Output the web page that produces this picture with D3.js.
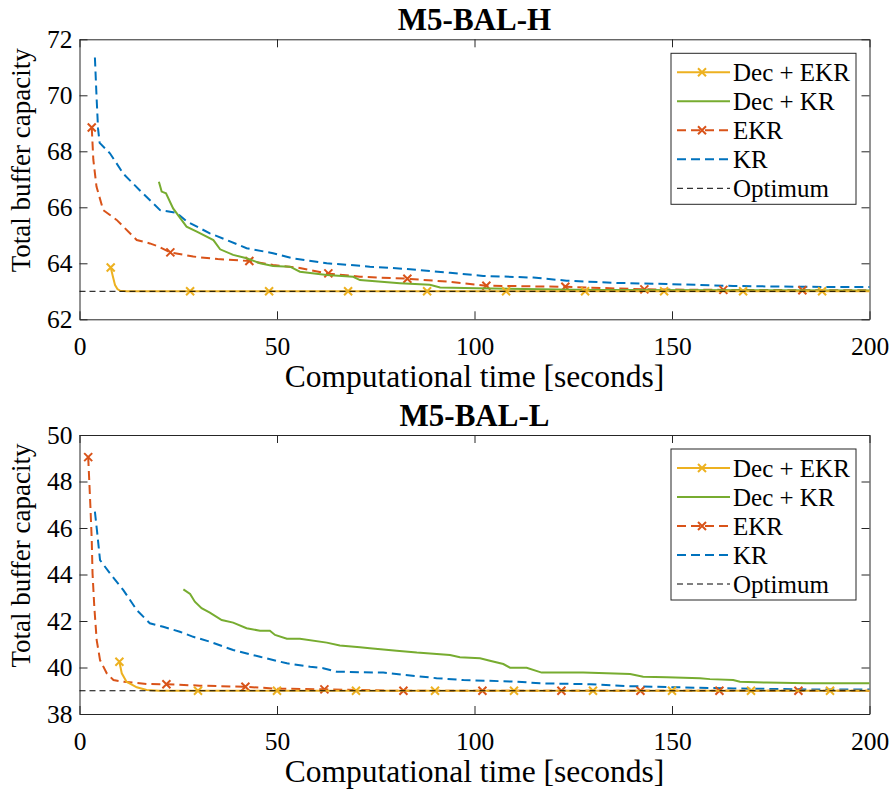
<!DOCTYPE html>
<html>
<head>
<meta charset="utf-8">
<script src="https://cdn.jsdelivr.net/npm/d3@7"></script>
<style>
  body { margin: 0; background: #fff; }
  svg text { font-family: "Liberation Serif", "DejaVu Serif", "Times New Roman", serif !important; fill: #000; }
</style>
</head>
<body>
<div id="chart-area"></div>
<script>
// ---- data ----
const xTicks = [0, 50, 100, 150, 200]
const hTicks = [62, 64, 66, 68, 70, 72]
const lTicks = [38, 40, 42, 44, 46, 48, 50]
const seriesNames = ["Dec + EKR", "Dec + KR", "EKR", "KR", "Optimum"]

// M5-BAL-H
const hDecEkr = [[7.9, 63.85], [8.5, 63.5], [9, 63.22], [9.6, 63.08], [10.3, 63.02], [12, 63.0], [200, 63.0]]
const hDecEkrMarks = [[7.9, 63.85], [28, 63], [48, 63], [68, 63], [88, 63], [108, 63], [128, 63], [148, 63], [168, 63], [188, 63]]
const hDecKr = [[20.1, 66.91], [20.8, 66.56], [21.9, 66.5], [23.7, 65.96], [27.1, 65.31], [29.7, 65.13], [33.9, 64.83],
  [35.6, 64.5], [38.9, 64.3], [42.3, 64.18], [45.7, 64.0], [49, 63.9], [53.3, 63.88], [55.8, 63.7], [62.6, 63.58],
  [69.3, 63.52], [71, 63.4], [81.1, 63.29], [88.7, 63.23], [91.3, 63.14], [100.6, 63.11], [130, 63.05], [200, 63.03]]
const hEkr = [[3.1, 68.85], [3.5, 67.7], [4.3, 66.74], [6, 65.9], [9.4, 65.55], [14.5, 64.83], [17.8, 64.71], [20, 64.6],
  [22.9, 64.39], [28.8, 64.24], [35, 64.15], [43.2, 64.08], [49, 63.94], [55, 63.85], [62.6, 63.64], [71, 63.52],
  [82.8, 63.45], [93.8, 63.34], [103, 63.2], [123.3, 63.16], [142.7, 63.07], [163, 63.05], [183, 63.04], [200, 63.04]]
const hEkrMarks = [[3.1, 68.85], [23, 64.39], [43, 64.08], [63, 63.64], [83, 63.45], [103, 63.2], [123, 63.16], [143, 63.07], [163, 63.05], [183, 63.04]]
const hKr = [[3.9, 71.35], [4.3, 70.0], [4.7, 68.8], [5.1, 68.3], [7.7, 67.93], [11.1, 67.2], [15.3, 66.6], [20.4, 65.9],
  [24.6, 65.8], [27.1, 65.5], [33, 65.07], [37.3, 64.83], [42.3, 64.54], [49, 64.36], [54, 64.18], [62.6, 64.0],
  [68.5, 63.94], [73.5, 63.88], [83.7, 63.79], [93.8, 63.66], [102.2, 63.55], [114.9, 63.49], [123.3, 63.38],
  [136, 63.3], [148.7, 63.26], [165.5, 63.19], [182.4, 63.16], [200, 63.15]]
const hOpt = 63

// M5-BAL-L
const lDecEkr = [[10.1, 40.25], [10.7, 39.75], [11.9, 39.39], [14.5, 39.15], [17, 39.03], [20, 39.0], [200, 39.0]]
const lDecEkrMarks = [[10.1, 40.25], [30, 39], [50, 39], [70, 39], [90, 39], [110, 39], [130, 39], [150, 39], [170, 39], [190, 39]]
const lDecKr = [[26.3, 43.36], [28, 43.16], [29.2, 42.83], [30.9, 42.55], [33, 42.36], [36, 42.04], [38.9, 41.93],
  [42.3, 41.69], [45.7, 41.58], [48.2, 41.58], [49.5, 41.4], [52.5, 41.24], [55.8, 41.24], [62.6, 41.07], [65.9, 40.95],
  [71, 40.87], [73.5, 40.83], [80.3, 40.72], [85.4, 40.64], [93.8, 40.54], [96.3, 40.44], [101.4, 40.4], [103.9, 40.29],
  [107.3, 40.15], [109, 39.99], [113.2, 39.99], [117, 39.78], [127.5, 39.78], [139.4, 39.72], [142.7, 39.6],
  [148.7, 39.58], [157.1, 39.54], [159.6, 39.5], [165.5, 39.46], [167.2, 39.39], [174, 39.35], [184.1, 39.32], [200, 39.32]]
const lEkr = [[2.2, 49.05], [2.5, 47.92], [2.8, 46.77], [3.1, 45.48], [3.3, 44.05], [3.75, 42.6], [4.35, 41.18],
  [5.2, 40.32], [6.9, 39.75], [8.6, 39.46], [11.1, 39.39], [17, 39.29], [22.1, 39.28], [30.5, 39.22], [42.3, 39.17],
  [49.9, 39.09], [62.2, 39.06], [80, 39.0], [200, 39.0]]
const lEkrMarks = [[2.2, 49.05], [22, 39.28], [42, 39.17], [62, 39.06], [82, 39], [102, 39], [122, 39], [142, 39], [162, 39], [182, 39]]
const lKr = [[3.9, 46.7], [4.5, 45.77], [5.2, 44.62], [7.7, 44.05], [11.1, 43.33], [14.5, 42.47], [17.8, 41.9],
  [21.2, 41.75], [25.4, 41.54], [28.8, 41.32], [33, 41.11], [38.9, 40.75], [45.7, 40.46], [52.5, 40.18], [58.4, 40.03],
  [61.7, 39.97], [65.1, 39.82], [76.9, 39.78], [85.4, 39.63], [90.4, 39.54], [97.2, 39.46], [110.7, 39.39],
  [116.6, 39.32], [129.2, 39.28], [138.5, 39.2], [151.2, 39.15], [165.5, 39.1], [182.4, 39.06], [200, 39.05]]
const lOpt = 39

// ---- styles ----
const COLORS = { decEkr: "#EDB120", decKr: "#77AC30", ekr: "#D95319", kr: "#0072BD", opt: "#000" }
const AXIS = "#262626"
const FONT = "'Liberation Serif', 'DejaVu Serif', serif"

const svg = d3.select("#chart-area").append("svg")
  .attr("width", 895)
  .attr("height", 791)
  .attr("font-family", FONT)

const x = d3.scaleLinear().domain([0, 200]).range([79.5, 869.5])

const panels = [
  { title: "M5-BAL-H", top: 39.3, bottom: 319.3, ticks: hTicks,
    decEkr: hDecEkr, decEkrMarks: hDecEkrMarks, decKr: hDecKr, ekr: hEkr, ekrMarks: hEkrMarks, kr: hKr, opt: hOpt },
  { title: "M5-BAL-L", top: 435, bottom: 714, ticks: lTicks,
    decEkr: lDecEkr, decEkrMarks: lDecEkrMarks, decKr: lDecKr, ekr: lEkr, ekrMarks: lEkrMarks, kr: lKr, opt: lOpt }
]

function cross(sel, cx, cy, color) {
  const s = 4
  sel.append("path")
    .attr("d", `M${cx - s},${cy - s}L${cx + s},${cy + s}M${cx - s},${cy + s}L${cx + s},${cy - s}`)
    .attr("stroke", color)
    .attr("stroke-width", 2)
    .attr("fill", "none")
}

panels.forEach(p => {
  const y = d3.scaleLinear()
    .domain([p.ticks[0], p.ticks[p.ticks.length - 1]])
    .range([p.bottom, p.top])

  const g = svg.append("g")

  // Axes (MATLAB box, ticks inside)
  const axes = [
    g.append("g").attr("transform", `translate(0, ${p.bottom})`)
      .call(d3.axisBottom(x).tickValues(xTicks).tickSizeInner(-8).tickSizeOuter(0).tickPadding(18)),
    g.append("g").attr("transform", `translate(0, ${p.top})`)
      .call(d3.axisTop(x).tickValues(xTicks).tickSizeInner(-8).tickSizeOuter(0).tickFormat("")),
    g.append("g").attr("transform", `translate(${x(0)}, 0)`)
      .call(d3.axisLeft(y).tickValues(p.ticks).tickSizeInner(-8).tickSizeOuter(0).tickPadding(7)),
    g.append("g").attr("transform", `translate(${x(200)}, 0)`)
      .call(d3.axisRight(y).tickValues(p.ticks).tickSizeInner(-8).tickSizeOuter(0).tickFormat(""))
  ]
  axes.forEach(a => a.attr("font-family", FONT).attr("font-size", 25.5))

  g.selectAll(".domain, .tick line").attr("stroke", AXIS).attr("stroke-width", 1)
  g.selectAll(".tick text").attr("fill", "#000")

  // Title + labels
  svg.append("text")
    .attr("x", (x(0) + x(200)) / 2)
    .attr("y", p.top - 9.5)
    .attr("text-anchor", "middle")
    .attr("font-size", "31px")
    .attr("font-weight", "bold")
    .text(p.title)
  svg.append("text")
    .attr("x", (x(0) + x(200)) / 2)
    .attr("y", p.bottom + 67.5)
    .attr("text-anchor", "middle")
    .attr("font-size", "31.5px")
    .text("Computational time [seconds]")
  svg.append("text")
    .attr("transform", "rotate(-90)")
    .attr("x", -((p.top + p.bottom) / 2 - 19))
    .attr("y", 30)
    .attr("text-anchor", "middle")
    .attr("font-size", "27px")
    .text("Total buffer capacity")

  const line = d3.line().x(d => x(d[0])).y(d => y(d[1]))

  // KR
  g.append("path").datum(p.kr)
    .attr("d", line).attr("fill", "none")
    .attr("stroke", COLORS.kr).attr("stroke-width", 2)
    .attr("stroke-dasharray", "9,5")
  // EKR
  g.append("path").datum(p.ekr)
    .attr("d", line).attr("fill", "none")
    .attr("stroke", COLORS.ekr).attr("stroke-width", 2)
    .attr("stroke-dasharray", "9,5")
  p.ekrMarks.forEach(d => cross(g, x(d[0]), y(d[1]), COLORS.ekr))
  // Dec + KR
  g.append("path").datum(p.decKr)
    .attr("d", line).attr("fill", "none")
    .attr("stroke", COLORS.decKr).attr("stroke-width", 2)
  // Dec + EKR
  g.append("path").datum(p.decEkr)
    .attr("d", line).attr("fill", "none")
    .attr("stroke", COLORS.decEkr).attr("stroke-width", 2)
  p.decEkrMarks.forEach(d => cross(g, x(d[0]), y(d[1]), COLORS.decEkr))

  // Optimum (drawn on top)
  g.append("line")
    .attr("x1", x(0)).attr("x2", x(200))
    .attr("y1", y(p.opt)).attr("y2", y(p.opt))
    .attr("stroke", COLORS.opt).attr("stroke-width", 1)
    .attr("stroke-dasharray", "6,4")

  // Legend
  const lx = 671, ly = p.top + 14
  const leg = svg.append("g").attr("transform", `translate(${lx}, ${ly})`)
  leg.append("rect")
    .attr("width", 185).attr("height", 151)
    .attr("fill", "#fff").attr("stroke", AXIS).attr("stroke-width", 1)
  const styles = [
    { c: COLORS.decEkr, dash: null, mark: true, w: 2 },
    { c: COLORS.decKr, dash: null, mark: false, w: 2 },
    { c: COLORS.ekr, dash: "9,5", mark: true, w: 2 },
    { c: COLORS.kr, dash: "9,5", mark: false, w: 2 },
    { c: COLORS.opt, dash: "6,4", mark: false, w: 1 }
  ]
  seriesNames.forEach((name, i) => {
    const cy = 19 + i * 29
    leg.append("line")
      .attr("x1", 6).attr("x2", 59).attr("y1", cy).attr("y2", cy)
      .attr("stroke", styles[i].c).attr("stroke-width", styles[i].w)
      .attr("stroke-dasharray", styles[i].dash)
    if (styles[i].mark) cross(leg, 31, cy, styles[i].c)
    leg.append("text")
      .attr("x", 62).attr("y", cy + 8.5)
      .attr("font-size", "25px")
      .text(name)
  })
})
</script>
</body>
</html>
